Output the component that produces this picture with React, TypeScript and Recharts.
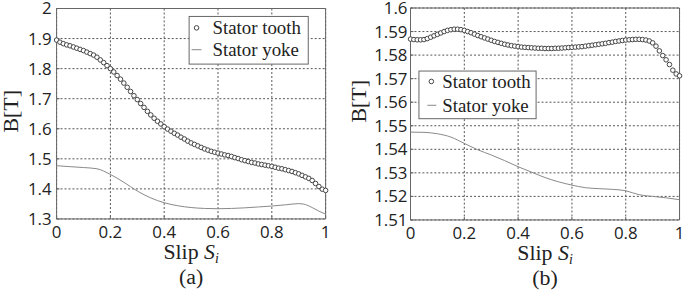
import {
  CartesianGrid,
  Customized,
  Label,
  Line,
  LineChart,
  ReferenceArea,
  XAxis,
  YAxis
} from "recharts"

// slip axis
const slipTicks = [0, 0.2, 0.4, 0.6, 0.8, 1]
const slipStep = 0.0125

// panel (a)
const yTicksA = [1.3, 1.4, 1.5, 1.6, 1.7, 1.8, 1.9, 2]
const toothA = [
  1.895, 1.888, 1.883, 1.879, 1.876, 1.872, 1.868, 1.864, 1.86, 1.855,
  1.85, 1.845, 1.838, 1.829, 1.82, 1.81, 1.8, 1.789, 1.777, 1.765,
  1.752, 1.738, 1.724, 1.71, 1.697, 1.684, 1.671, 1.658, 1.646, 1.635,
  1.625, 1.616, 1.607, 1.599, 1.592, 1.585, 1.579, 1.572, 1.566, 1.559,
  1.553, 1.548, 1.543, 1.538, 1.533, 1.529, 1.525, 1.522, 1.519, 1.516,
  1.513, 1.511, 1.508, 1.504, 1.501, 1.497, 1.494, 1.491, 1.488, 1.486,
  1.483, 1.481, 1.479, 1.477, 1.475, 1.472, 1.469, 1.467, 1.464, 1.461,
  1.458, 1.454, 1.45, 1.445, 1.44, 1.435, 1.428, 1.418, 1.408, 1.399,
  1.395
]
const yokeSlipA = [
  0, 0.05, 0.1, 0.15, 0.2, 0.25, 0.3, 0.35, 0.4, 0.45, 0.5, 0.55, 0.6,
  0.65, 0.7, 0.75, 0.8, 0.85, 0.9, 0.925, 0.95, 0.975, 1
]
const yokeA = [
  1.477, 1.474, 1.471, 1.467, 1.448, 1.422, 1.393, 1.37, 1.354, 1.344,
  1.338, 1.335, 1.334, 1.335, 1.337, 1.34, 1.343, 1.347, 1.351, 1.348,
  1.338, 1.326, 1.316
]

// panel (b)
const yTicksB = [1.51, 1.52, 1.53, 1.54, 1.55, 1.56, 1.57, 1.58, 1.59, 1.6]
const toothB = [
  1.5868, 1.5866, 1.5865, 1.5865, 1.5866, 1.587, 1.5876, 1.5882, 1.5888, 1.5894,
  1.59, 1.5905, 1.5908, 1.591, 1.591, 1.5908, 1.5905, 1.59, 1.5895, 1.5889,
  1.5883, 1.5878, 1.5873, 1.5868, 1.5863, 1.5858, 1.5854, 1.585, 1.5846, 1.5843,
  1.584, 1.5838, 1.5836, 1.5834, 1.5833, 1.5832, 1.5831, 1.583, 1.5829, 1.5829,
  1.5828, 1.5828, 1.5828, 1.5829, 1.5829, 1.583, 1.5831, 1.5832, 1.5833, 1.5834,
  1.5835, 1.5836, 1.5838, 1.584, 1.5842, 1.5844, 1.5846, 1.5848, 1.585, 1.5853,
  1.5855, 1.5858, 1.586, 1.5862, 1.5864, 1.5865, 1.5866, 1.5867, 1.5867, 1.5866,
  1.5864, 1.586, 1.5852, 1.5838, 1.5818, 1.5798, 1.578, 1.576, 1.5736, 1.572,
  1.5712
]
const yokeSlipB = [
  0, 0.05, 0.1, 0.15, 0.2, 0.25, 0.3, 0.35, 0.4, 0.45, 0.5, 0.55, 0.6,
  0.65, 0.7, 0.75, 0.8, 0.85, 0.9, 0.95, 1
]
const yokeB = [
  1.5473, 1.5472, 1.5466, 1.5452, 1.5425, 1.5398, 1.5376, 1.5352, 1.5326, 1.5303,
  1.528, 1.5262, 1.5248, 1.5237, 1.5233, 1.523, 1.5224, 1.5207, 1.52, 1.5194,
  1.5186
]

const serif = "Liberation Serif"
const sans = "Open Sans"
const tickStyle = { fill: "#222", fontSize: 17, fontFamily: sans }

// legend box drawn inside the chart svg so it takes no layout space
const LegendBox = ({ x, y, w, cx, lx1, lx2, tx, r1, r2 }: any) => (
  <g transform={`translate(${x}, ${y})`}>
    <rect x={0.5} y={0.5} width={w - 1} height={48} fill="#fff" stroke="#666" />
    <circle cx={cx} cy={r1} r={2.3} fill="#fff" stroke="#444" />
    <text x={tx} y={r1} dy="0.35em" fontFamily={serif} fontSize={19} fill="#222">Stator tooth</text>
    <line x1={lx1} x2={lx2} y1={r2} y2={r2} stroke="#888" />
    <text x={tx} y={r2} dy="0.35em" fontFamily={serif} fontSize={19} fill="#222">Stator yoke</text>
  </g>
)

const Panel = (p: any) => {
  const toothData = p.tooth.map((b: number, i: number) => ({ slip: i * slipStep, b }))
  const yokeData = p.yoke.map((b: number, i: number) => ({ slip: p.yokeSlip[i], b }))
  const lo = p.yTicks[0]
  const hi = p.yTicks[p.yTicks.length - 1]
  return (
    <LineChart
      width={345}
      height={291}
      margin={{ top: p.top, right: p.right, bottom: 0, left: 0 }}
    >
      <CartesianGrid stroke="#555" strokeDasharray="2 2" />
      <ReferenceArea x1={0} x2={1} y1={lo} y2={hi} fill="none" stroke="#666" ifOverflow="visible" />
      <XAxis
        type="number"
        dataKey="slip"
        domain={[0, 1]}
        ticks={slipTicks}
        interval={0}
        height={p.xAxisH}
        axisLine={false}
        tickLine={{ stroke: "#666" }}
        tickSize={-3}
        tickMargin={10}
        tick={tickStyle}
      >
        <Label
          content={({ viewBox }: any) => (
            <g>
              <text x={viewBox.x + viewBox.width / 2} y={viewBox.y + 40} textAnchor="middle" fontFamily={serif} fontSize={22} fill="#222">
                Slip <tspan fontStyle="italic">S</tspan>
                <tspan fontStyle="italic" fontSize={14} dy={4}>i</tspan>
              </text>
              <text x={viewBox.x + viewBox.width / 2} y={viewBox.y + 66} textAnchor="middle" fontFamily={serif} fontSize={22} fill="#222">
                {p.tag}
              </text>
            </g>
          )}
        />
      </XAxis>
      <YAxis
        type="number"
        domain={[lo, hi]}
        ticks={p.yTicks}
        interval={0}
        width={p.yAxisW}
        axisLine={false}
        tickLine={{ stroke: "#666" }}
        tickSize={-3}
        tickMargin={p.yTickMargin + 3}
        tick={tickStyle}
      >
        <Label
          content={() => (
            <text
              x={p.yLabelX}
              y={p.yLabelY}
              transform={`rotate(-90, ${p.yLabelX}, ${p.yLabelY})`}
              textAnchor="middle"
              dominantBaseline="central"
              fontFamily={serif}
              fontSize={22}
              fill="#222"
            >
              B[T]
            </text>
          )}
        />
      </YAxis>
      <Line
        data={yokeData}
        dataKey="b"
        type="monotone"
        stroke="#888"
        strokeWidth={1}
        dot={false}
        activeDot={false}
        isAnimationActive={false}
      />
      <Line
        data={toothData}
        dataKey="b"
        stroke="none"
        dot={{ r: 2.3, fill: "#fff", stroke: "#444", strokeWidth: 1 }}
        activeDot={false}
        isAnimationActive={false}
      />
      <Customized component={() => <LegendBox {...p.legend} />} />
    </LineChart>
  )
}

export default function App() {
  return (
    <div style={{ position: "absolute", left: 0, top: 0, width: 685, height: 291, background: "#fff", display: "flex" }}>
      <Panel
        tooth={toothA}
        yokeSlip={yokeSlipA}
        yoke={yokeA}
        yTicks={yTicksA}
        tag="(a)"
        top={7.5}
        right={17}
        xAxisH={71.5}
        yAxisW={57}
        yTickMargin={5}
        yLabelX={11}
        yLabelY={111}
        legend={{ x: 190, y: 15, w: 121, cx: 8, lx1: 3, lx2: 13, tx: 24, r1: 12, r2: 34 }}
      />
      <Panel
        tooth={toothB}
        yokeSlip={yokeSlipB}
        yoke={yokeB}
        yTicks={yTicksB}
        tag="(b)"
        top={7}
        right={6}
        xAxisH={70.5}
        yAxisW={68}
        yTickMargin={3}
        yLabelX={16}
        yLabelY={101}
        legend={{ x: 76, y: 70, w: 119, cx: 13, lx1: 9, lx2: 18, tx: 24, r1: 11, r2: 35 }}
      />
    </div>
  )
}
